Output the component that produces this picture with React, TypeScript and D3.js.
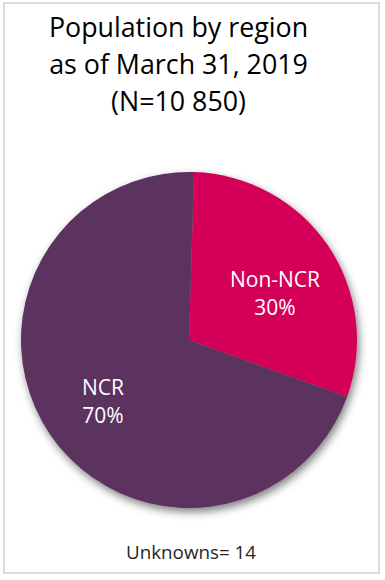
import React from "react";
import * as d3 from "d3";

const titleLines = ["Population by region", "as of March 31, 2019", "(N=10 850)"];
const categories = ["Non-NCR", "NCR"];
const values = [30, 70];
const colors = ["#D40058", "#5C325E"];
const footnote = "Unknowns= 14";

const W = 385;
const H = 580;
const cx = 189;
const cy = 340;
const R = 168;
const startRot = 0.03;

export default function App() {
  const pie = d3
    .pie<number>()
    .sort(null)
    .value((d) => d)
    .startAngle(startRot)
    .endAngle(startRot + Math.PI * 2);
  const arcs = pie(values);
  const arc = d3.arc<d3.PieArcDatum<number>>().innerRadius(0).outerRadius(R);
  const total = d3.sum(values);
  const labelPos = [
    [275, 286.5],
    [103, 394.5],
  ];
  const font = "'Open Sans', 'Noto Sans', sans-serif";
  return (
    <svg
      width={W}
      height={H}
      style={{ position: "absolute", left: 0, top: 0, background: "#fff" }}
      fontFamily={font}
    >
      <defs>
        <filter id="sh" x="-20%" y="-20%" width="140%" height="140%">
          <feDropShadow dx="2" dy="4" stdDeviation="4" floodColor="#000" floodOpacity="0.5" />
        </filter>
      </defs>
      <rect x={4} y={3} width={375} height={570} fill="#fff" stroke="#dcdcdc" strokeWidth={2} />
      {titleLines.map((t, i) => (
        <text key={i} x={178.5} y={37 + i * 37} textAnchor="middle" fontSize={26.8} fill="#000">
          {t}
        </text>
      ))}
      <g transform={`translate(${cx},${cy})`} filter="url(#sh)">
        {arcs.map((a, i) => (
          <path key={i} d={arc(a) || ""} fill={colors[i]} />
        ))}
      </g>
      {arcs.map((a, i) => (
        <g key={"l" + i}>
          <text x={labelPos[i][0]} y={labelPos[i][1]} textAnchor="middle" fontSize={21} fill="#fff">
            {categories[i]}
          </text>
          <text x={labelPos[i][0]} y={labelPos[i][1] + 28.5} textAnchor="middle" fontSize={21} fill="#fff">
            {Math.round((a.data / total) * 100) + "%"}
          </text>
        </g>
      ))}
      <text x={191} y={559} textAnchor="middle" fontSize={18.8} fill="#262626">
        {footnote}
      </text>
    </svg>
  );
}
